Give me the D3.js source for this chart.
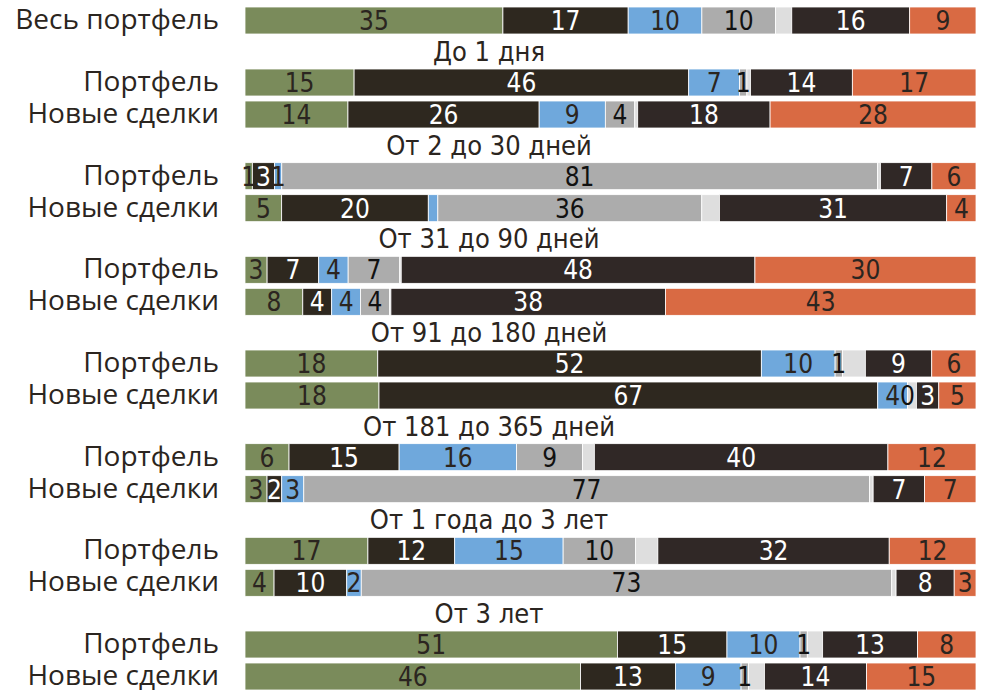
<!DOCTYPE html>
<meta charset="utf-8">
<style>
  body { margin: 0; background: #fff; }
  .rowLabel { font-family: "Open Sans", sans-serif; font-size: 28px; fill: #2b2520; text-anchor: end; }
  .title { font-family: "Liberation Sans Narrow", "DejaVu Sans Condensed", sans-serif; font-size: 27px; fill: #2b2520; text-anchor: middle; }
  .num { font-family: "Liberation Sans Narrow", "DejaVu Sans Condensed", sans-serif; font-size: 26px; text-anchor: middle; }
</style>
<body>
<svg width="984" height="691"></svg>
<script src="https://d3js.org/d3.v7.min.js"></script>
<script>

// segment order: green, dark, blue, gray, light gray (no label), dark, orange
var colors = ["#7a8b5b", "#2e281f", "#6fa8dc", "#acacac", "#dedede", "#302826", "#d96a43"];
var textColors = ["#2b2520", "#fff", "#2b2520", "#111", "#111", "#fff", "#2b2520"];

var groups = ["До 1 дня", "От 2 до 30 дней", "От 31 до 90 дней", "От 91 до 180 дней",
              "От 181 до 365 дней", "От 1 года до 3 лет", "От 3 лет"];

var totalValues = [35, 17, 10, 10, 2.2, 16, 9];

var portfolioValues = [
  [15, 46, 7, 1, 0.5, 14, 17],
  [1, 3, 1, 81, 0.4, 7, 6],
  [3, 7, 4, 7, 0.2, 48, 30],
  [18, 52, 10, 1, 3.1, 9, 6],
  [6, 15, 16, 9, 1.6, 40, 12],
  [17, 12, 15, 10, 3.1, 32, 12],
  [51, 15, 10, 1, 2.1, 13, 8]
];

var newValues = [
  [14, 26, 9, 4, 0.4, 18, 28],
  [5, 20, 1.3, 36, 2.4, 31, 4],
  [8, 4, 4, 4, 0.2, 38, 43],
  [18, 67, 4, 0, 1.2, 3, 5],
  [3, 2, 3, 77, 0.5, 7, 7],
  [4, 10, 2, 73, 0.6, 8, 3],
  [46, 13, 9, 1, 2.2, 14, 15]
];

var svg = d3.select("svg");
var x0 = 245, x1 = 976, barH = 27;

var groupY = d3.scaleLinear().domain([0, groups.length - 1]).range([69, 631]);

var rows = [{label: "Весь портфель", y: 7, values: totalValues}];
groups.forEach(function(g, i) {
  rows.push({label: "Портфель", y: groupY(i), values: portfolioValues[i]});
  rows.push({label: "Новые сделки", y: groupY(i) + 32, values: newValues[i]});
});

rows.forEach(function(r) {
  var x = d3.scaleLinear().domain([0, d3.sum(r.values)]).range([x0, x1]);
  var acc = 0;
  var segs = r.values.map(function(v, i) {
    var s = {i: i, v: v, start: acc};
    acc += v;
    return s;
  });

  var g = svg.append("g").attr("transform", "translate(0," + r.y + ")");

  g.selectAll("rect")
    .data(segs)
    .enter().append("rect")
      .attr("x", function(d) { return x(d.start); })
      .attr("width", function(d) { return x(d.start + d.v) - x(d.start); })
      .attr("y", 0)
      .attr("height", barH)
      .attr("fill", function(d) { return colors[d.i]; })
      .attr("stroke", "#fff")
      .attr("stroke-width", 0.8);

  g.selectAll("text.num")
    .data(segs.filter(function(d) { return d.i !== 4 && Number.isInteger(d.v); }))
    .enter().append("text")
      .attr("class", "num")
      .attr("x", function(d) { return x(d.start + d.v / 2); })
      .attr("y", barH - 4)
      .attr("fill", function(d) { return textColors[d.i]; })
      .text(function(d) { return d.v; });

  svg.append("text")
    .attr("class", "rowLabel")
    .attr("x", 219)
    .attr("y", r.y + barH - 5)
    .text(r.label);
});

svg.selectAll("text.title")
  .data(groups)
  .enter().append("text")
    .attr("class", "title")
    .attr("x", 489)
    .attr("y", function(d, i) { return groupY(i) - 8; })
    .text(function(d) { return d; });

</script>
</body>
